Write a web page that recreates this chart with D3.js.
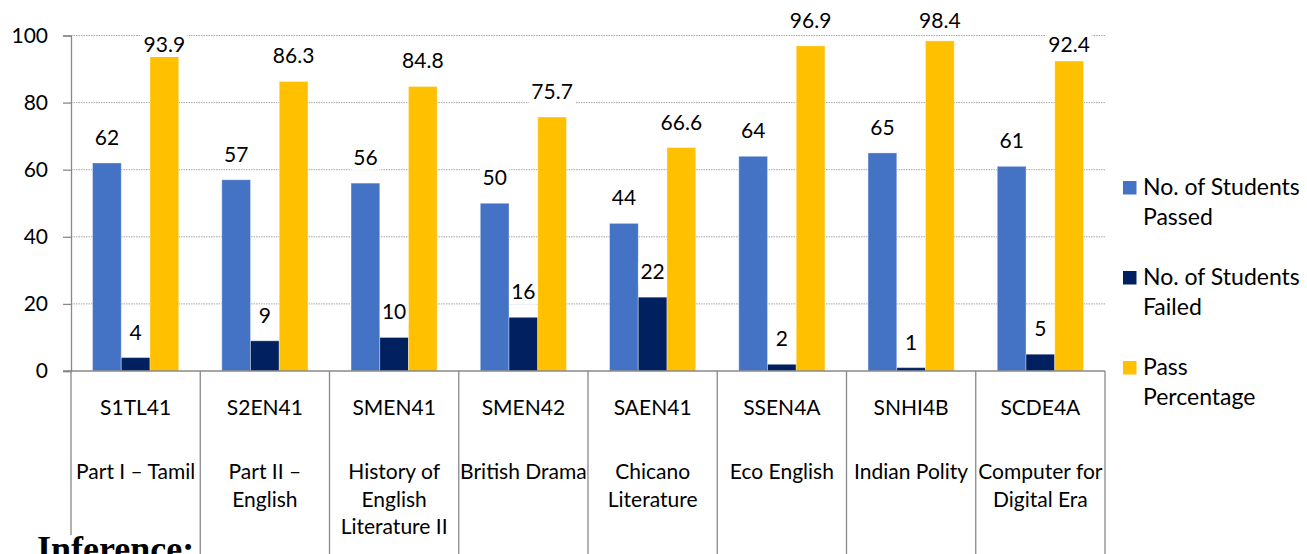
<!DOCTYPE html>
<html>
<head>
<meta charset="utf-8">
<script src="https://cdn.jsdelivr.net/npm/d3@7"></script>
<style>
  body { margin: 0; background: #fff; }
  svg text { font-family: Lato, "Open Sans", sans-serif; fill: #000; }
</style>
</head>
<body>
<svg id="chart" width="1307" height="554"></svg>
<script>
// course codes along the x axis
const courseCodes = ['S1TL41', 'S2EN41', 'SMEN41', 'SMEN42', 'SAEN41', 'SSEN4A', 'SNHI4B', 'SCDE4A'];
// course titles, one entry per printed line
const courseNames = [
    ['Part I – Tamil'],
    ['Part II –', 'English'],
    ['History of', 'English', 'Literature II'],
    ['British Drama'],
    ['Chicano', 'Literature'],
    ['Eco English'],
    ['Indian Polity'],
    ['Computer for', 'Digital Era']
];
const studentsPassed = [62, 57, 56, 50, 44, 64, 65, 61];
const studentsFailed = [4, 9, 10, 16, 22, 2, 1, 5];
const passPercentage = [93.9, 86.3, 84.8, 75.7, 66.6, 96.9, 98.4, 92.4];
const seriesKeys = ['passed', 'failed', 'pct'];
const seriesLabels = [['No. of Students', 'Passed'], ['No. of Students', 'Failed'], ['Pass', 'Percentage']];
const seriesColors = ['#4472C4', '#002060', '#FFC000'];
const yTicks = [0, 20, 40, 60, 80, 100];

const svg = d3.select('#chart');
const plotLeft = 71, plotRight = 1105, plotTop = 35.5, plotBottom = 371;

const x0 = d3.scaleBand().domain(courseCodes).range([plotLeft, plotRight]);
// excel style gap width 150% -> 0.75 bar width on each side of a group
const x1 = d3.scaleBand().domain(seriesKeys).range([0, x0.bandwidth()]).paddingOuter(0.75);
const y = d3.scaleLinear().domain([0, 100]).range([plotBottom, plotTop]);

const rows = courseCodes.map(function(code, i) {
    return { code: code, passed: studentsPassed[i], failed: studentsFailed[i], pct: passPercentage[i] };
});

//Gridlines
svg.append('g')
    .selectAll('line')
    .data(yTicks.filter(function(t) { return t > 0; }))
    .enter().append('line')
    .attr('x1', plotLeft).attr('x2', plotRight)
    .attr('y1', function(d) { return y(d); }).attr('y2', function(d) { return y(d); })
    .attr('stroke', '#a6a6a6')
    .attr('stroke-width', 1)
    .attr('stroke-dasharray', '1.5,1');

//Bars
const groups = svg.append('g')
    .selectAll('g')
    .data(rows)
    .enter().append('g')
    .attr('transform', function(d) { return 'translate(' + x0(d.code) + ',0)'; });

groups.selectAll('rect')
    .data(function(d) { return seriesKeys.map(function(k, j) { return { key: k, value: d[k], color: seriesColors[j] }; }); })
    .enter().append('rect')
    .attr('x', function(d) { return x1(d.key); })
    .attr('width', x1.bandwidth())
    .attr('y', function(d) { return y(d.value); })
    .attr('height', function(d) { return y(0) - y(d.value); })
    .attr('fill', function(d) { return d.color; })
    .attr('stroke', '#ffffff')
    .attr('stroke-opacity', 0.35)
    .attr('stroke-width', 1);

//Value labels, pushed away from the top gridline like excel does
function labelBaseline(v) {
    var base = y(v) - 18;
    if (base - 17 < y(100) && base + 5 > y(100)) {
        base = y(100) + 16.5;
    }
    return Math.max(base, 28);
}
const labels = groups.selectAll('g.lbl')
    .data(function(d) { return seriesKeys.map(function(k) { return { key: k, value: d[k] }; }); })
    .enter().append('g')
    .attr('class', 'lbl')
    .attr('transform', function(d) { return 'translate(' + (x1(d.key) + x1.bandwidth() / 2) + ',' + labelBaseline(d.value) + ')'; });
labels.append('text')
    .attr('text-anchor', 'middle')
    .style('font-size', '21px')
    .text(function(d) { return d.value; });
labels.each(function() {
    var g = d3.select(this);
    var w = g.select('text').node().getComputedTextLength();
    g.insert('rect', 'text')
        .attr('x', -w / 2 - 2).attr('width', w + 4)
        .attr('y', -17).attr('height', 22)
        .attr('fill', '#fff');
});

//Y axis
const yAxis = d3.axisLeft(y).tickValues(yTicks).tickSize(8).tickPadding(15);
const yG = svg.append('g')
    .attr('transform', 'translate(' + plotLeft + ',0)')
    .call(yAxis);
yG.select('.domain').attr('stroke', '#898989').attr('stroke-width', 1.3);
yG.selectAll('.tick line').attr('stroke', '#898989').attr('stroke-width', 1.3);
yG.selectAll('.tick text').style('font-size', '21px').attr('fill', '#000').style('font-family', 'Lato');

//Category table below the axis
svg.append('line')
    .attr('x1', plotLeft - 8).attr('x2', plotRight)
    .attr('y1', plotBottom).attr('y2', plotBottom)
    .attr('stroke', '#898989').attr('stroke-width', 1.3);
const dividers = courseCodes.map(function(c) { return x0(c); }).concat([plotRight]);
svg.append('g')
    .selectAll('line')
    .data(dividers)
    .enter().append('line')
    .attr('x1', function(d) { return d; }).attr('x2', function(d) { return d; })
    .attr('y1', plotBottom).attr('y2', 554)
    .attr('stroke', '#898989').attr('stroke-width', 1.3);

const cat = svg.append('g')
    .selectAll('g')
    .data(courseCodes)
    .enter().append('g')
    .attr('transform', function(d) { return 'translate(' + (x0(d) + x0.bandwidth() / 2) + ',0)'; });
cat.append('text')
    .attr('y', 415)
    .attr('text-anchor', 'middle')
    .style('font-size', '21px')
    .text(function(d) { return d; });
cat.each(function(d, i) {
    d3.select(this).selectAll('text.name')
        .data(courseNames[i])
        .enter().append('text')
        .attr('class', 'name')
        .attr('y', function(line, k) { return 479 + k * 27.5; })
        .attr('text-anchor', 'middle')
        .style('font-size', '21px')
        .text(function(line) { return line; });
});

//Legend
const legend = svg.append('g')
    .selectAll('g')
    .data(seriesLabels)
    .enter().append('g')
    .attr('transform', function(d, i) { return 'translate(1123,' + (181 + i * 90) + ')'; });
legend.append('rect')
    .attr('width', 13.5).attr('height', 13.5)
    .attr('fill', function(d, i) { return seriesColors[i]; });
legend.each(function(d) {
    d3.select(this).selectAll('text')
        .data(d)
        .enter().append('text')
        .attr('x', 20)
        .attr('y', function(line, k) { return 14 + k * 30; })
        .style('font-size', '23px')
        .text(function(line) { return line; });
});

//Heading of the next paragraph, cut by the page edge
const inf = svg.append('g');
inf.append('rect').attr('x', 36).attr('y', 535).attr('width', 162).attr('height', 20).attr('fill', '#fff');
inf.append('text')
    .attr('x', 37).attr('y', 561)
    .style('font-family', '"Liberation Serif", serif')
    .style('font-weight', 'bold')
    .style('font-size', '36px')
    .text('Inference:');
</script>
</body>
</html>
